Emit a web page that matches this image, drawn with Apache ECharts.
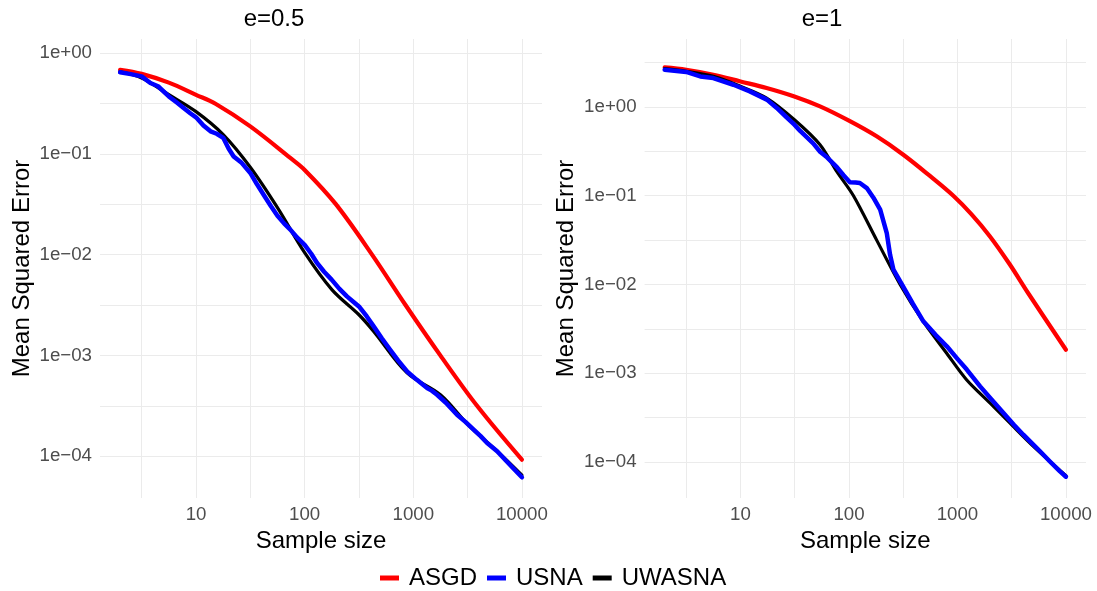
<!DOCTYPE html>
<html><head><meta charset="utf-8">
<script src="https://cdn.jsdelivr.net/npm/echarts@6/dist/echarts.min.js"></script>
<style>html,body{margin:0;padding:0;background:#fff}#c{width:1097px;height:591px}</style>
</head><body><div id="c"></div>
<script>
const panelTitles = ['e=0.5', 'e=1'];
const seriesNames = ['ASGD', 'USNA', 'UWASNA'];
const seriesColors = ['#FF0000', '#0000FF', '#000000'];
const xTickValues = [10, 100, 1000, 10000];
const xTickLabels = ['10', '100', '1000', '10000'];
const yTickValues = [1e-4, 1e-3, 1e-2, 1e-1, 1];
const yTickLabels = ['1e\u221204', '1e\u221203', '1e\u221202', '1e\u221201', '1e+00'];

// Panel e=0.5
const asgdN_A = [2, 3.16, 5.62, 10, 15.1, 31.6, 73.8, 100, 192, 417, 845, 1774, 3864, 10000];
const asgdMSE_A = [0.682, 0.621, 0.508, 0.385, 0.314, 0.187, 0.091, 0.0692, 0.032, 0.01, 0.00318, 0.001, 0.000316, 0.0000923];
const usnaN_A = [2, 2.51, 3.16, 3.80, 4.47, 5.62, 6.61, 7.69, 8.91, 10, 11.7, 13.6, 15.5, 17.8, 20.0, 22.2, 26.3, 31.6, 36.3, 41.9, 49.0, 56.2, 64.6, 73.8, 85.1, 100, 115, 130, 151, 177, 209, 245, 282, 316, 372, 432, 513, 615, 724, 877, 1072, 1340, 1479, 1656, 1995, 2529, 3020, 3597, 4169, 4786, 5916, 7079, 8318, 10000];
const usnaMSE_A = [0.643, 0.617, 0.586, 0.504, 0.468, 0.371, 0.324, 0.284, 0.251, 0.23, 0.191, 0.167, 0.158, 0.144, 0.112, 0.0942, 0.0813, 0.0646, 0.0501, 0.0393, 0.0302, 0.0243, 0.0204, 0.0177, 0.0148, 0.0125, 0.0102, 0.00826, 0.00676, 0.00564, 0.00457, 0.00385, 0.00339, 0.00306, 0.00245, 0.00194, 0.00148, 0.00113, 0.000891, 0.000693, 0.000575, 0.000475, 0.000447, 0.000407, 0.000339, 0.000258, 0.000219, 0.000183, 0.000158, 0.000135, 0.000112, 0.0000912, 0.0000759, 0.0000617];
const uwasnaN_A = [2, 3.16, 5.62, 10, 17.8, 31.6, 56.2, 100, 178, 316, 432, 877, 1778, 3199, 5916, 10000];
const uwasnaMSE_A = [0.652, 0.565, 0.386, 0.262, 0.155, 0.0735, 0.0292, 0.01044, 0.00449, 0.00253, 0.00173, 0.00067, 0.000407, 0.000205, 0.000112, 0.000065];

// Panel e=1
const asgdN_B = [2, 3.16, 5.62, 10, 17.4, 31.4, 54.1, 100, 180, 317, 558, 916, 1349, 1995, 3020, 4477, 10000];
const asgdMSE_B = [2.79, 2.63, 2.31, 1.94, 1.64, 1.315, 1.016, 0.701, 0.467, 0.290, 0.167, 0.1, 0.0617, 0.0348, 0.017, 0.00802, 0.00184];
const usnaN_B = [2, 3.16, 4.26, 5.62, 8.61, 12.2, 17.5, 21.6, 26.3, 31.4, 35.5, 40.8, 46.8, 54.2, 63.1, 77.3, 89.1, 102, 115, 126, 146, 168, 194, 223, 239, 257, 318, 389, 485, 631, 798, 1000, 1219, 1618, 2042, 2655, 3311, 4046, 5768, 7079, 8810, 10000];
const usnaMSE_B = [2.63, 2.48, 2.21, 2.12, 1.78, 1.50, 1.21, 0.975, 0.776, 0.632, 0.537, 0.457, 0.389, 0.313, 0.269, 0.210, 0.170, 0.142, 0.141, 0.139, 0.122, 0.0951, 0.0697, 0.0380, 0.0217, 0.0147, 0.00933, 0.00603, 0.00384, 0.00269, 0.00201, 0.00145, 0.0011, 0.000711, 0.000513, 0.000356, 0.000263, 0.000203, 0.000132, 0.000102, 0.0000783, 0.0000682];
const uwasnaN_B = [2, 3.16, 5.62, 10, 17.4, 31.4, 54.1, 77.1, 110, 180, 296, 483, 793, 1213, 1991, 3041, 5012, 10000];
const uwasnaMSE_B = [2.70, 2.52, 2.21, 1.71, 1.26, 0.719, 0.376, 0.188, 0.1, 0.0316, 0.01, 0.00384, 0.00169, 0.000845, 0.000462, 0.000275, 0.00015, 0.0000701];

const FONT = '"Liberation Sans", Arial, Helvetica, sans-serif';
const lg = Math.log10;
const pts = (n, v) => n.map((x, i) => [lg(x), lg(v[i])]);
const xLogTicks = xTickValues.map(lg);
const yLogTicks = yTickValues.map(lg);
const halfSteps = (a, b) => { const r = []; for (let t = a; t <= b + 1e-9; t += 0.5) r.push(t); return r; };
const labelFor = (vals, labels) => v => { const i = vals.findIndex(t => Math.abs(t - v) < 1e-6); return i >= 0 ? labels[i] : ''; };

const grids = [
  { left: 100, top: 39, width: 442, height: 459 },
  { left: 644.6, top: 39, width: 441.4, height: 459 }
];
const yRanges = [[-4.415, 0.139], [-4.406, 0.766]];

function xAxis(g) {
  return {
    type: 'value', gridIndex: g, min: 0.116, max: 4.185,
    axisLine: { show: false },
    axisTick: { show: false, customValues: halfSteps(0.5, 4) },
    axisLabel: { customValues: xLogTicks, formatter: labelFor(xLogTicks, xTickLabels), fontSize: 18.7, color: '#4D4D4D', margin: 7, fontFamily: FONT },
    splitLine: { show: true, lineStyle: { color: '#EBEBEB', width: 1 } },
    name: 'Sample size', nameLocation: 'middle', nameGap: 27,
    nameTextStyle: { fontSize: 24, color: '#000', fontFamily: FONT }
  };
}
function yAxis(g) {
  return {
    type: 'value', gridIndex: g, min: yRanges[g][0], max: yRanges[g][1],
    axisLine: { show: false },
    axisTick: { show: false, customValues: halfSteps(-4, Math.floor(yRanges[g][1] * 2) / 2) },
    axisLabel: { customValues: yLogTicks, formatter: labelFor(yLogTicks, yTickLabels), fontSize: 18.7, color: '#4D4D4D', margin: 8, fontFamily: FONT },
    splitLine: { show: true, lineStyle: { color: '#EBEBEB', width: 1 } },
    name: 'Mean Squared Error', nameLocation: 'middle', nameGap: 66,
    nameTextStyle: { fontSize: 24, color: '#000', fontFamily: FONT }
  };
}
function line(name, g, data, width, z, smooth) {
  const c = seriesColors[seriesNames.indexOf(name)];
  return {
    type: 'line', name, xAxisIndex: g, yAxisIndex: g, data,
    showSymbol: false, symbol: 'none', smooth, color: c, z,
    lineStyle: { color: c, width, cap: 'round', join: 'round' }, animation: false
  };
}

const chart = echarts.init(document.getElementById('c'), null, { renderer: 'canvas' });
chart.setOption({
  backgroundColor: '#fff',
  animation: false,
  textStyle: { fontFamily: FONT },
  title: [
    { text: panelTitles[0], left: 274, top: 7, textAlign: 'center', padding: 0, textStyle: { fontSize: 24, fontWeight: 'normal', color: '#000', fontFamily: FONT } },
    { text: panelTitles[1], left: 822, top: 7, textAlign: 'center', padding: 0, textStyle: { fontSize: 24, fontWeight: 'normal', color: '#000', fontFamily: FONT } }
  ],
  legend: {
    data: seriesNames, left: 380, top: 566, icon: 'rect', itemWidth: 19, itemHeight: 5, itemGap: 10,
    padding: 0, selectedMode: false,
    textStyle: { fontSize: 24, color: '#000', fontFamily: FONT, padding: [0, 0, 0, 5] }
  },
  grid: grids,
  xAxis: [xAxis(0), xAxis(1)],
  yAxis: [yAxis(0), yAxis(1)],
  series: [
    line('ASGD', 0, pts(asgdN_A, asgdMSE_A), 4.2, 2, 0.35),
    line('UWASNA', 0, pts(uwasnaN_A, uwasnaMSE_A), 3.2, 3, 0.35),
    line('USNA', 0, pts(usnaN_A, usnaMSE_A), 4.5, 4, false),
    line('ASGD', 1, pts(asgdN_B, asgdMSE_B), 4.2, 2, 0.35),
    line('UWASNA', 1, pts(uwasnaN_B, uwasnaMSE_B), 3.2, 3, 0.3),
    line('USNA', 1, pts(usnaN_B, usnaMSE_B), 4.5, 4, false)
  ]
});
</script>
</body></html>
